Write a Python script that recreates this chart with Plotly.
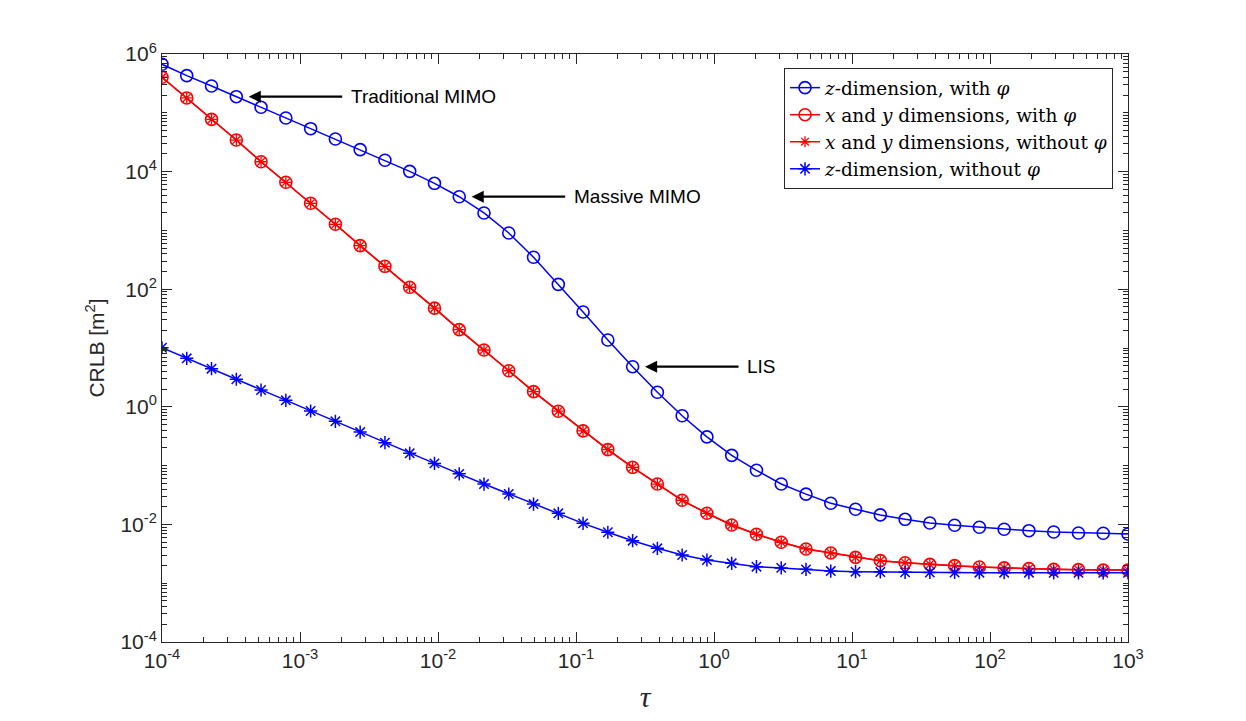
import math
import plotly.graph_objects as go

# ---------------- data ----------------
tau = [1.000e-4, 1.511e-4, 2.285e-4, 3.455e-4, 5.223e-4, 7.896e-4,
       1.194e-3, 1.805e-3, 2.728e-3, 4.125e-3, 6.235e-3, 9.427e-3,
       1.425e-2, 2.154e-2, 3.257e-2, 4.924e-2, 7.444e-2, 0.1125,
       0.1701, 0.2572, 0.3888, 0.5878, 0.8886, 1.3434, 2.0309, 3.0703,
       4.6416, 7.0170, 10.608, 16.037, 24.245, 36.652, 55.410, 83.768,
       126.64, 191.45, 289.43, 437.55, 661.47, 1000.0]

z_with_phi = [6.68e5, 4.28e5, 2.86e5, 1.88e5, 1.24e5, 8.17e4, 5.37e4, 3.58e4,
              2.36e4, 1.56e4, 1.01e4, 6.32e3, 3.74e3, 1.98e3, 904, 349, 121,
              40.9, 13.7, 4.81, 1.77, 0.703, 0.308, 0.149, 0.0832, 0.0486,
              0.0327, 0.0229, 0.0181, 0.0145, 0.0122, 0.01057, 0.00966,
              0.00893, 0.00826, 0.00782, 0.00743, 0.00714, 0.00706, 0.00687]

xy_with_phi = [4.02e5, 1.79e5, 7.74e4, 3.44e4, 1.47e4, 6.58e3, 2.89e3, 1.27e3,
               550, 245, 108, 47.6, 20.5, 9.25, 4.11, 1.81, 0.841, 0.390,
               0.187, 0.0935, 0.0486, 0.0257, 0.01545, 0.00977, 0.00679,
               0.00497, 0.00382, 0.00327, 0.00275, 0.00242, 0.00223, 0.00209,
               0.00199, 0.00189, 0.00182, 0.00177, 0.00172, 0.00170, 0.00167,
               0.00167]

xy_without_phi = list(xy_with_phi)

z_without_phi = [10.1, 6.68, 4.45, 2.94, 1.93, 1.29, 0.849, 0.566, 0.372,
                 0.245, 0.162, 0.109, 0.0724, 0.0486, 0.0329, 0.0222,
                 0.01545, 0.01042, 0.00735, 0.00528, 0.00392, 0.00302,
                 0.00248, 0.00218, 0.00191, 0.00182, 0.00172, 0.00161,
                 0.00157, 0.00155, 0.00153, 0.00152, 0.00152, 0.00151,
                 0.00151, 0.00151, 0.00150, 0.00150, 0.00150, 0.00150]

series_names = ["<i>z</i>-dimension, with <i>φ</i>",
                "<i>x</i> and <i>y</i> dimensions, with <i>φ</i>",
                "<i>x</i> and <i>y</i> dimensions, without <i>φ</i>",
                "<i>z</i>-dimension, without <i>φ</i>"]

x_tickvals = [1e-4, 1e-3, 1e-2, 1e-1, 1e0, 1e1, 1e2, 1e3]
x_ticktext = ["10<sup>-4</sup>", "10<sup>-3</sup>", "10<sup>-2</sup>",
              "10<sup>-1</sup>", "10<sup>0</sup>", "10<sup>1</sup>",
              "10<sup>2</sup>", "10<sup>3</sup>"]
y_tickvals = [1e-4, 1e-2, 1e0, 1e2, 1e4, 1e6]
y_ticktext = ["10<sup>-4</sup>", "10<sup>-2</sup>", "10<sup>0</sup>",
              "10<sup>2</sup>", "10<sup>4</sup>", "10<sup>6</sup>"]

annot_labels = ["Traditional MIMO", "Massive MIMO", "LIS"]
annot_index = [3, 12, 19]

# ---------------- figure ----------------
BLUE = "#0000FF"
RED = "#FF0000"
AX = "#262626"

fig = go.Figure()
fig.add_trace(go.Scatter(x=tau, y=z_with_phi, mode="lines+markers",
                         name=series_names[0],
                         line=dict(color=BLUE, width=1.5),
                         marker=dict(symbol="circle-open", size=12, color=BLUE,
                                     line=dict(width=1.6, color=BLUE))))
fig.add_trace(go.Scatter(x=tau, y=xy_with_phi, mode="lines+markers",
                         name=series_names[1],
                         line=dict(color=RED, width=1.5),
                         marker=dict(symbol="circle-open", size=12, color=RED,
                                     line=dict(width=1.6, color=RED))))
fig.add_trace(go.Scatter(x=tau, y=xy_without_phi, mode="lines+markers",
                         name=series_names[2],
                         line=dict(color=RED, width=1.5),
                         marker=dict(symbol="asterisk-open", size=9, color=RED,
                                     line=dict(width=1.3, color=RED))))
fig.add_trace(go.Scatter(x=tau, y=z_without_phi, mode="lines+markers",
                         name=series_names[3],
                         line=dict(color=BLUE, width=1.5),
                         marker=dict(symbol="asterisk-open", size=11, color=BLUE,
                                     line=dict(width=1.5, color=BLUE))))

# minor tick positions (2..9 within each decade, plus unlabelled decades)
x_minor = [m * 10.0 ** k for k in range(-4, 3) for m in range(2, 10)]
y_minor = [m * 10.0 ** k for k in range(-4, 6) for m in range(2, 10)] + \
          [10.0 ** k for k in (-3, -1, 1, 3, 5)]

axis_common = dict(type="log", showgrid=False, zeroline=False,
                   showline=True, linecolor=AX, linewidth=1, mirror="ticks",
                   ticks="inside", ticklen=10, tickwidth=1, tickcolor=AX,
                   tickfont=dict(family="Liberation Sans, Arial", size=21, color=AX))

fig.update_xaxes(**axis_common, range=[-4, 3], tickmode="array",
                 tickvals=x_tickvals, ticktext=x_ticktext,
                 minor=dict(tickmode="array", tickvals=x_minor, ticks="inside",
                            ticklen=5, tickwidth=1, tickcolor=AX),
                 title=dict(text="<i>τ</i>", standoff=14,
                            font=dict(family="Liberation Serif, serif", size=30, color=AX)))
fig.update_yaxes(**axis_common, range=[-4, 6], tickmode="array",
                 tickvals=y_tickvals, ticktext=y_ticktext,
                 minor=dict(tickmode="array", tickvals=y_minor, ticks="inside",
                            ticklen=5, tickwidth=1, tickcolor=AX),
                 title=dict(text="CRLB [m<sup>2</sup>]", standoff=10,
                            font=dict(family="Liberation Sans, Arial", size=21, color=AX)))

annotations = []
for label, idx in zip(annot_labels, annot_index):
    tip_x = math.log10(tau[idx]) + 0.09
    tip_y = math.log10(z_with_phi[idx])
    annotations.append(dict(x=tip_x, y=tip_y, xref="x", yref="y", text="",
                            showarrow=True, ax=95, ay=0, axref="pixel", ayref="pixel",
                            arrowhead=2, arrowsize=1.1, arrowwidth=2.2,
                            arrowcolor="black", standoff=0, startstandoff=0))
    annotations.append(dict(x=tip_x, y=tip_y, xref="x", yref="y", text=label,
                            showarrow=False, xanchor="left", yanchor="middle",
                            xshift=100,
                            font=dict(family="Liberation Sans, Arial", size=19,
                                      color="black")))

fig.update_layout(
    width=1246, height=721,
    margin=dict(l=162, r=118, t=54, b=79, autoexpand=False),
    paper_bgcolor="white", plot_bgcolor="white",
    annotations=annotations,
    legend=dict(x=0.9845, y=0.976, xanchor="right", yanchor="top",
                bgcolor="white", bordercolor=AX, borderwidth=1,
                font=dict(family="DejaVu Serif, serif", size=18.5, color="black"),
                tracegroupgap=0, itemwidth=30),
    showlegend=True,
)

fig.write_html("out.html", config={"displayModeBar": False},
               post_script="document.body.style.margin='0px';")
